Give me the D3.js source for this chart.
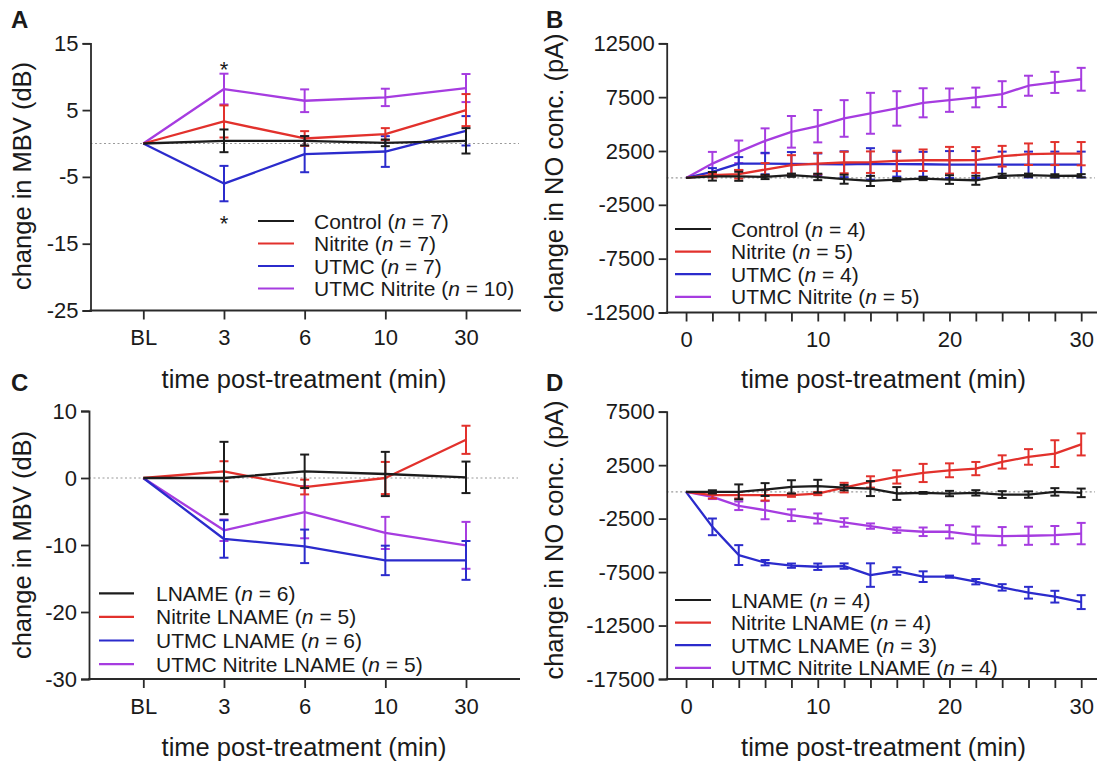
<!DOCTYPE html>
<html><head><meta charset="utf-8">
<script src="https://cdn.jsdelivr.net/npm/d3@7"></script>
<style>
body{margin:0;background:#fff;}
svg text{font-family:"Liberation Sans",Arial,Helvetica,sans-serif;fill:#1a1a1a;}
</style></head><body>
<svg id="chart" width="1101" height="767"></svg>
<script>
// ---------- DATA ----------
const mbvCategories = ["BL","3","6","10","30"];
const noTimes = [0,2,4,6,8,10,12,14,16,18,20,22,24,26,28,30];
const noTickLabels = [0,10,20,30];
const mbvTicksA = [-25,-15,-5,5,15];
const mbvTicksC = [-30,-20,-10,0,10];
const noTicksB = [-12500,-7500,-2500,2500,7500,12500];
const noTicksD = [-17500,-12500,-7500,-2500,2500,7500];

// Panel A
const aNames = ["Control","Nitrite","UTMC","UTMC Nitrite"];
const aN = [7,7,7,10];
const aControl = [0,0.4,0.4,0.1,0.4];
const aControlErr = [0,1.7,0.7,0.5,1.9];
const aNitrite = [0,3.3,0.75,1.4,5.0];
const aNitriteErr = [0,2.4,1.1,0.9,2.4];
const aUtmc = [0,-6.0,-1.6,-1.2,1.9];
const aUtmcErr = [0,2.65,2.7,2.3,2.2];
const aUtmcNitrite = [0,8.15,6.4,6.9,8.3];
const aUtmcNitriteErr = [0,2.3,1.7,1.3,2.1];

// Panel B
const bNames = ["Control","Nitrite","UTMC","UTMC Nitrite"];
const bN = [4,5,4,5];
const bControl = [0,150,150,90,250,90,-120,-280,-155,-60,-155,-220,190,250,190,200];
const bControlErr = [0,400,420,200,150,300,420,470,150,150,400,420,200,150,150,150];
const bNitrite = [0,250,340,775,1180,1330,1430,1460,1580,1640,1640,1660,2015,2200,2260,2250];
const bNitriteErr = [0,200,400,600,930,1000,1000,1000,950,1000,1240,1200,960,1000,1070,1080];
const bUtmc = [0,560,1330,1330,1300,1270,1270,1300,1270,1270,1240,1240,1240,1240,1240,1240];
const bUtmcErr = [0,350,600,1000,1100,1000,1200,1460,1150,1150,1250,1250,1200,1200,1200,1200];
const bUtmcNitrite = [0,1330,2420,3440,4280,4800,5520,6000,6450,6975,7220,7470,7780,8560,8870,9160];
const bUtmcNitriteErr = [0,1085,1050,1160,1470,1500,1700,1900,1600,1350,1085,915,1200,930,980,1060];

// Panel C
const cNames = ["LNAME","Nitrite LNAME","UTMC LNAME","UTMC Nitrite LNAME"];
const cN = [6,5,6,5];
const cLname = [0,0,1.0,0.6,0.1];
const cLnameErr = [0,5.4,2.5,3.3,2.35];
const cNitriteLname = [0,1.0,-1.35,0,5.7];
const cNitriteLnameErr = [0,1.5,1.1,2.4,2.1];
const cUtmcLname = [0,-9.1,-10.2,-12.3,-12.3];
const cUtmcLnameErr = [0,2.8,2.5,2.2,2.9];
const cUtmcNitriteLname = [0,-7.8,-5.1,-8.2,-10.05];
const cUtmcNitriteLnameErr = [0,1.6,3.9,2.4,3.5];

// Panel D
const dNames = ["LNAME","Nitrite LNAME","UTMC LNAME","UTMC Nitrite LNAME"];
const dN = [4,4,3,4];
const dLname = [0,0,0,220,470,530,400,310,-150,-90,-155,-90,-250,-250,0,-90];
const dLnameErr = [0,150,700,600,620,600,250,700,600,80,250,250,320,300,350,400];
const dNitriteLname = [0,-310,-310,-310,-310,-155,400,930,1400,1770,2020,2180,2800,3270,3580,4440];
const dNitriteLnameErr = [0,300,300,500,150,150,450,530,620,850,650,620,620,730,1250,1030];
const dUtmcLname = [0,-3270,-5910,-6620,-6900,-7000,-6940,-7780,-7400,-7930,-7930,-8400,-8930,-9430,-9800,-10310];
const dUtmcLnameErr = [0,780,930,250,200,300,250,1100,350,500,100,250,300,550,550,650];
const dUtmcNitriteLname = [0,-470,-1300,-1710,-2180,-2490,-2860,-3200,-3580,-3730,-3730,-4040,-4140,-4100,-4040,-3900];
const dUtmcNitriteLnameErr = [0,200,400,850,550,470,400,250,250,400,620,800,850,850,850,1000];

const seriesColors = ["#1c1c1c","#e2312c","#2b2bcc","#a63ce0"];

// ---------- DRAWING ----------
const svg = d3.select("#chart");
const AXIS = "#2a2a2a";
const TICK_FS = 22, TITLE_FS = 25.5, LEG_FS = 21;
const fmt = d => String(d).replace("\u2212", "-");

function drawPanel(p) {
  const g = svg.append("g");
  const y = d3.scaleLinear().domain(p.yDomain).range([p.yBottom, p.yTop]);
  let x, xs, axisLeft = p.axisX, axisRight = p.axisEnd;
  if (p.categorical) {
    x = d3.scalePoint().domain(p.xValues).range([p.xFirst, p.xLast]);
  } else {
    x = d3.scaleLinear().domain([p.xMin, p.xMax]).range([p.axisX, p.axisEnd]);
  }
  xs = v => x(v);

  // zero dotted line
  g.append("line")
    .attr("x1", axisLeft).attr("x2", axisRight - 2)
    .attr("y1", y(0)).attr("y2", y(0))
    .attr("stroke", "#9a9a9a").attr("stroke-width", 1.2)
    .attr("stroke-dasharray", "2,2.5");

  // y axis
  const yAxis = d3.axisLeft(y).tickValues(p.yTicks).tickSize(8).tickPadding(4)
    .tickFormat(fmt);
  const gy = g.append("g").attr("transform", `translate(${axisLeft},0)`).call(yAxis);
  gy.select(".domain").attr("stroke", AXIS).attr("stroke-width", 1.8);
  gy.selectAll(".tick line").attr("stroke", AXIS).attr("stroke-width", 1.8);
  gy.selectAll(".tick text").attr("font-size", TICK_FS).attr("fill", "#1a1a1a")
    .attr("font-family", '"Liberation Sans",Arial,sans-serif');

  // x axis
  let xAxis;
  if (p.categorical) {
    xAxis = d3.axisBottom(x).tickSize(9).tickPadding(10);
  } else {
    xAxis = d3.axisBottom(x).tickValues(p.xValues).tickSize(9).tickPadding(10)
      .tickFormat(d => p.xLabels.includes(d) ? d : "");
  }
  const gx = g.append("g").attr("transform", `translate(0,${p.yBottom})`).call(xAxis);
  gx.select(".domain").remove();
  gx.append("line").attr("x1", axisLeft - 1).attr("x2", axisRight)
    .attr("y1", 0).attr("y2", 0).attr("stroke", AXIS).attr("stroke-width", 1.8);
  gx.selectAll(".tick line").attr("stroke", AXIS).attr("stroke-width", 1.8);
  gx.selectAll(".tick text").attr("font-size", TICK_FS).attr("fill", "#1a1a1a")
    .attr("font-family", '"Liberation Sans",Arial,sans-serif');

  // series (drawn reverse so first series sits on top)
  const order = [3,2,1,0];
  order.forEach(si => {
    const vals = p.series[si], errs = p.errors[si], col = seriesColors[si];
    const pts = p.xValues.map((xv, i) => ({x: xs(xv), v: vals[i], e: errs[i]}));
    const eb = g.append("g").attr("stroke", col).attr("stroke-width", 2);
    pts.forEach(d => {
      if (!d.e) return;
      const y1 = y(d.v + d.e), y2 = y(d.v - d.e);
      eb.append("line").attr("x1", d.x).attr("x2", d.x).attr("y1", y1).attr("y2", y2);
      eb.append("line").attr("x1", d.x - 4.5).attr("x2", d.x + 4.5).attr("y1", y1).attr("y2", y1);
      eb.append("line").attr("x1", d.x - 4.5).attr("x2", d.x + 4.5).attr("y1", y2).attr("y2", y2);
    });
    g.append("path").datum(pts)
      .attr("fill", "none").attr("stroke", col).attr("stroke-width", 2.3)
      .attr("stroke-linejoin", "round")
      .attr("d", d3.line().x(d => d.x).y(d => y(d.v)));
  });

  // legend
  p.names.forEach((nm, i) => {
    const ly = p.legY + i * p.legStep;
    g.append("line").attr("x1", p.legX1).attr("x2", p.legX2)
      .attr("y1", ly).attr("y2", ly).attr("stroke", seriesColors[i]).attr("stroke-width", 2.2);
    const t = g.append("text").attr("x", p.legTextX).attr("y", ly).attr("dy", "0.36em")
      .attr("font-size", LEG_FS);
    t.append("tspan").text(nm + " (");
    t.append("tspan").attr("font-style", "italic").text("n");
    t.append("tspan").text(" = " + p.ns[i] + ")");
  });

  // axis titles
  g.append("text").attr("x", p.xTitleX).attr("y", p.xTitleY)
    .attr("text-anchor", "middle").attr("font-size", TITLE_FS)
    .text("time post-treatment (min)");
  g.append("text").attr("transform", `translate(${p.yTitleX},${p.yTitleY}) rotate(-90)`)
    .attr("text-anchor", "middle").attr("font-size", TITLE_FS)
    .text(p.yTitle);

  // panel letter
  g.append("text").attr("x", p.letterX).attr("y", p.letterY)
    .attr("font-size", 24).attr("font-weight", "bold").text(p.letter);
  return {x: xs, y: y, g: g};
}

const A = drawPanel({
  categorical: true, xValues: mbvCategories, xFirst: 143.3, xLast: 466,
  axisX: 90.5, axisEnd: 521, yDomain: [-25, 15], yTop: 43.3, yBottom: 310.5,
  yTicks: mbvTicksA,
  series: [aControl, aNitrite, aUtmc, aUtmcNitrite],
  errors: [aControlErr, aNitriteErr, aUtmcErr, aUtmcNitriteErr],
  names: aNames, ns: aN,
  legX1: 258, legX2: 294, legTextX: 314, legY: 221, legStep: 22.5,
  xTitleX: 304, xTitleY: 388, yTitleX: 31, yTitleY: 176,
  yTitle: "change in MBV (dB)", letter: "A", letterX: 11, letterY: 28
});
// significance asterisks at 3 min
A.g.append("text").attr("x", A.x("3")).attr("y", 77).attr("text-anchor", "middle")
  .attr("font-size", 22).text("*");
A.g.append("text").attr("x", A.x("3")).attr("y", 231).attr("text-anchor", "middle")
  .attr("font-size", 22).text("*");

drawPanel({
  categorical: false, xValues: noTimes, xLabels: noTickLabels, xMin: -1.47, xMax: 31.2,
  axisX: 666.7, axisEnd: 1097, yDomain: [-12500, 12500], yTop: 43.3, yBottom: 312.5,
  yTicks: noTicksB,
  series: [bControl, bNitrite, bUtmc, bUtmcNitrite],
  errors: [bControlErr, bNitriteErr, bUtmcErr, bUtmcNitriteErr],
  names: bNames, ns: bN,
  legX1: 675, legX2: 711, legTextX: 731, legY: 229, legStep: 22.6,
  xTitleX: 883.5, xTitleY: 388, yTitleX: 563, yTitleY: 173,
  yTitle: "change in NO conc. (pA)", letter: "B", letterX: 546, letterY: 28
});

drawPanel({
  categorical: true, xValues: mbvCategories, xFirst: 143.3, xLast: 466,
  axisX: 89, axisEnd: 520, yDomain: [-30, 10], yTop: 411, yBottom: 679,
  yTicks: mbvTicksC,
  series: [cLname, cNitriteLname, cUtmcLname, cUtmcNitriteLname],
  errors: [cLnameErr, cNitriteLnameErr, cUtmcLnameErr, cUtmcNitriteLnameErr],
  names: cNames, ns: cN,
  legX1: 99, legX2: 134, legTextX: 156, legY: 593.3, legStep: 23.6,
  xTitleX: 304, xTitleY: 756, yTitleX: 31, yTitleY: 545,
  yTitle: "change in MBV (dB)", letter: "C", letterX: 11, letterY: 391
});

drawPanel({
  categorical: false, xValues: noTimes, xLabels: noTickLabels, xMin: -1.47, xMax: 31.2,
  axisX: 666.7, axisEnd: 1097, yDomain: [-17500, 7500], yTop: 411.7, yBottom: 679,
  yTicks: noTicksD,
  series: [dLname, dNitriteLname, dUtmcLname, dUtmcNitriteLname],
  errors: [dLnameErr, dNitriteLnameErr, dUtmcLnameErr, dUtmcNitriteLnameErr],
  names: dNames, ns: dN,
  legX1: 675, legX2: 711, legTextX: 731, legY: 600, legStep: 22.6,
  xTitleX: 883.5, xTitleY: 756, yTitleX: 563, yTitleY: 540,
  yTitle: "change in NO conc. (pA)", letter: "D", letterX: 546, letterY: 391
});
</script>
</body></html>
